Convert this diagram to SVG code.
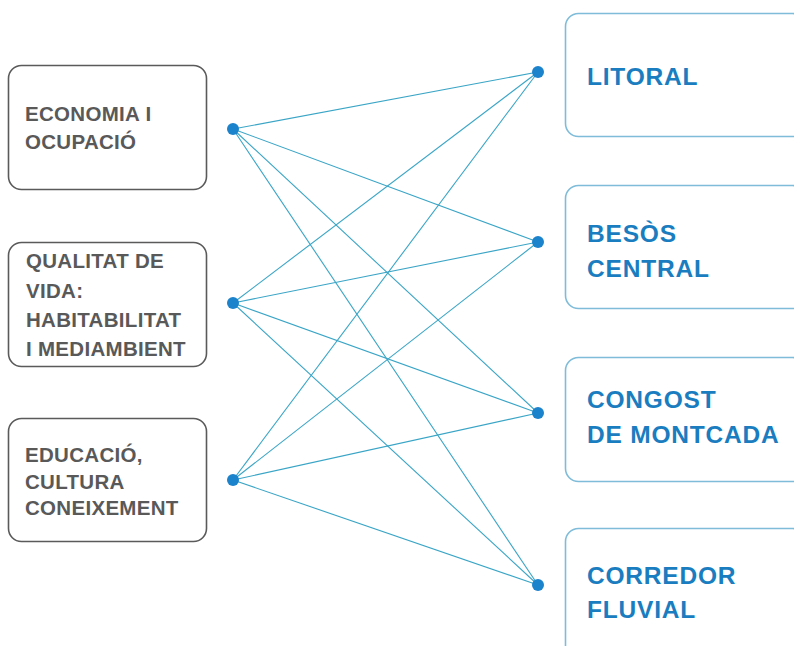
<svg xmlns="http://www.w3.org/2000/svg" width="794" height="646" viewBox="0 0 794 646">
<style>
.lbox{fill:#fff;stroke:#5a5a5a;stroke-width:1.6}
.rbox{fill:#fff;stroke:#7fbcd9;stroke-width:1.6}
.lt{font-family:"Liberation Sans",Arial,sans-serif;font-weight:bold;font-size:20.5px;fill:#595959;letter-spacing:0.3px}
.rt{font-family:"Liberation Sans",Arial,sans-serif;font-weight:bold;font-size:24.5px;fill:#1a7dbf;letter-spacing:0.8px}
.ln{stroke:#3aa5c6;stroke-width:1.1;fill:none}
.dot{fill:#1b82cc}
</style>
<rect width="794" height="646" fill="#fff"/>
<g id="connectors">
<line class="ln" x1="233" y1="129" x2="538" y2="72"/>
<line class="ln" x1="233" y1="129" x2="538" y2="242"/>
<line class="ln" x1="233" y1="129" x2="538" y2="413"/>
<line class="ln" x1="233" y1="129" x2="538" y2="585"/>
<line class="ln" x1="233" y1="303" x2="538" y2="72"/>
<line class="ln" x1="233" y1="303" x2="538" y2="242"/>
<line class="ln" x1="233" y1="303" x2="538" y2="413"/>
<line class="ln" x1="233" y1="303" x2="538" y2="585"/>
<line class="ln" x1="233" y1="480" x2="538" y2="72"/>
<line class="ln" x1="233" y1="480" x2="538" y2="242"/>
<line class="ln" x1="233" y1="480" x2="538" y2="413"/>
<line class="ln" x1="233" y1="480" x2="538" y2="585"/>
<circle class="dot" cx="233" cy="129" r="6"/>
<circle class="dot" cx="233" cy="303" r="6"/>
<circle class="dot" cx="233" cy="480" r="6"/>
<circle class="dot" cx="538" cy="72" r="6"/>
<circle class="dot" cx="538" cy="242" r="6"/>
<circle class="dot" cx="538" cy="413" r="6"/>
<circle class="dot" cx="538" cy="585" r="6"/>
</g>
<g id="economia">
<rect class="lbox" x="8.5" y="65.5" width="198" height="124" rx="13"/>
<text class="lt" x="25" y="121">ECONOMIA I</text>
<text class="lt" x="25" y="149">OCUPACIÓ</text>
</g>
<g id="qualitat">
<rect class="lbox" x="8.5" y="242.5" width="198" height="124" rx="13"/>
<text class="lt" x="26" y="268">QUALITAT DE</text>
<text class="lt" x="26" y="298">VIDA:</text>
<text class="lt" x="26" y="327">HABITABILITAT</text>
<text class="lt" x="26" y="356">I MEDIAMBIENT</text>
</g>
<g id="educacio">
<rect class="lbox" x="8.5" y="418.5" width="198" height="123" rx="13"/>
<text class="lt" x="25" y="462">EDUCACIÓ,</text>
<text class="lt" x="25" y="489">CULTURA</text>
<text class="lt" x="25" y="515">CONEIXEMENT</text>
</g>
<g id="litoral">
<rect class="rbox" x="565.5" y="13.5" width="240" height="123" rx="13"/>
<text class="rt" x="587" y="85">LITORAL</text>
</g>
<g id="besos">
<rect class="rbox" x="565.5" y="185.5" width="240" height="123" rx="13"/>
<text class="rt" x="587" y="242">BESÒS</text>
<text class="rt" x="587" y="277">CENTRAL</text>
</g>
<g id="congost">
<rect class="rbox" x="565.5" y="357.5" width="240" height="124" rx="13"/>
<text class="rt" x="587" y="408">CONGOST</text>
<text class="rt" x="587" y="443">DE MONTCADA</text>
</g>
<g id="corredor">
<rect class="rbox" x="565.5" y="528.5" width="240" height="130" rx="13"/>
<text class="rt" x="587" y="584">CORREDOR</text>
<text class="rt" x="587" y="618">FLUVIAL</text>
</g>
</svg>
